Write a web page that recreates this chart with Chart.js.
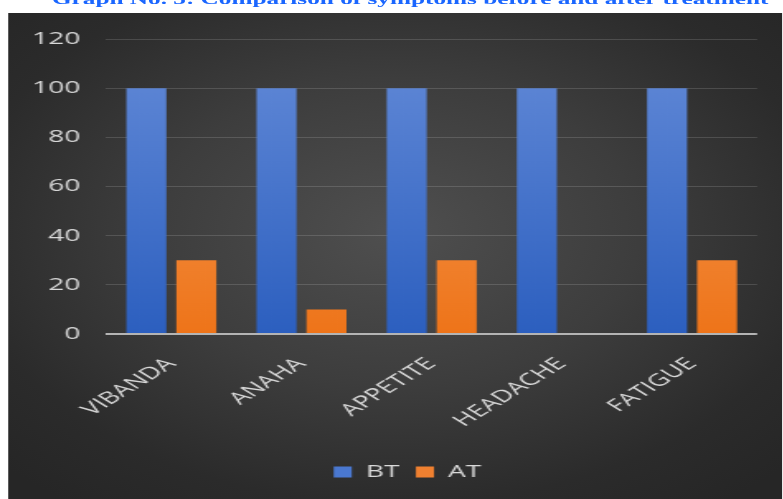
<!DOCTYPE html>
<html>
<head>
<meta charset="utf-8">
<script src="https://cdn.jsdelivr.net/npm/chart.js@4.4.1/dist/chart.umd.min.js"></script>
<style>
  html, body { margin: 0; padding: 0; background: #ffffff; overflow: hidden; width: 783px; height: 499px; }
  #wrap { position: absolute; left: 0; top: 0; width: 474.5px; height: 499px; transform: scaleX(1.65); transform-origin: 0 0; }
  #title { position: absolute; left: 31.5px; top: -9px; font: bold 15.3px 'Liberation Serif', 'Times New Roman', serif; line-height: 15.3px; color: #1a66ff; white-space: nowrap; }
  #panel { position: absolute; left: 5.45px; top: 13px; width: 469.05px; height: 486px;
           background: radial-gradient(ellipse 70% 70% at 50% 45%, #4f4f4f 0%, #3d3d3d 45%, #2b2b2b 80%, #262626 100%); }
</style>
</head>
<body>
<div id="wrap">
  <div id="title">Graph No. 3: Comparison of symptoms before and after treatment</div>
  <div id="panel"><canvas id="c"></canvas></div>
</div>
<script>
const categories = ['VIBANDA', 'ANAHA', 'APPETITE', 'HEADACHE', 'FATIGUE'];
const btValues = [100, 100, 100, 100, 100];
const atValues = [30, 10, 30, 0, 30];
const seriesNames = ['BT', 'AT'];
const yTickValues = [0, 20, 40, 60, 80, 100, 120];

Chart.defaults.font.family = "'Open Sans', 'DejaVu Sans', sans-serif";

function vGrad(top, bottom) {
  return function (ctx) {
    const chart = ctx.chart;
    const ca = chart.chartArea;
    if (!ca) return bottom;
    const g = chart.ctx.createLinearGradient(0, ca.top, 0, ca.bottom);
    g.addColorStop(0, top);
    g.addColorStop(1, bottom);
    return g;
  };
}

const legendShift = {
  id: 'legendShift',
  afterLayout(chart) {
    const lg = chart.legend;
    if (!lg) return;
    lg.left += 15;
    lg.right += 15;
    if (typeof lg.adjustHitBoxes === 'function') lg.adjustHitBoxes();
  }
};

new Chart(document.getElementById('c'), {
  type: 'bar',
  data: {
    labels: categories,
    datasets: [
      { label: seriesNames[0], data: btValues, backgroundColor: vGrad('#648bd8', '#2c5fbf'),
        categoryPercentage: 0.768, barPercentage: 0.8 },
      { label: seriesNames[1], data: atValues, backgroundColor: vGrad('#f6a263', '#ee7419'),
        categoryPercentage: 0.768, barPercentage: 0.8 }
    ]
  },
  plugins: [legendShift],
  options: {
    responsive: true,
    maintainAspectRatio: false,
    animation: false,
    layout: { padding: { top: 19, right: 15.15, left: 0, bottom: 8.5 } },
    plugins: {
      tooltip: { enabled: false },
      legend: {
        position: 'bottom',
        labels: {
          color: '#d9d9d9',
          font: { size: 17 },
          boxWidth: 11,
          boxHeight: 11,
          padding: 10,
          generateLabels: function (chart) {
            const cols = ['#4a78d0', '#ef8030'];
            return chart.data.datasets.map((d, i) => ({
              text: d.label, fillStyle: cols[i], strokeStyle: cols[i], lineWidth: 0,
              fontColor: '#d9d9d9', datasetIndex: i, hidden: false
            }));
          }
        }
      }
    },
    scales: {
      x: {
        grid: { display: false, drawTicks: false },
        border: { display: false },
        ticks: { color: '#d9d9d9', font: { size: 17 }, minRotation: 45, maxRotation: 45, padding: 20, autoSkip: false },
        afterFit: function (s) { s.height = 119.5; }
      },
      y: {
        min: 0, max: 120,
        afterBuildTicks: function (s) { s.ticks = yTickValues.map(v => ({ value: v })); },
        grid: {
          drawTicks: false,
          color: function (c) { return c.tick && c.tick.value === 0 ? '#b4b4b4' : 'rgba(255,255,255,0.14)'; },
          lineWidth: function (c) { return c.tick && c.tick.value === 0 ? 2 : 1; }
        },
        border: { display: false },
        ticks: { color: '#d9d9d9', font: { size: 17 }, padding: 15.8 },
        afterFit: function (s) { s.width = 59.4; }
      }
    }
  }
});
</script>
</body>
</html>
